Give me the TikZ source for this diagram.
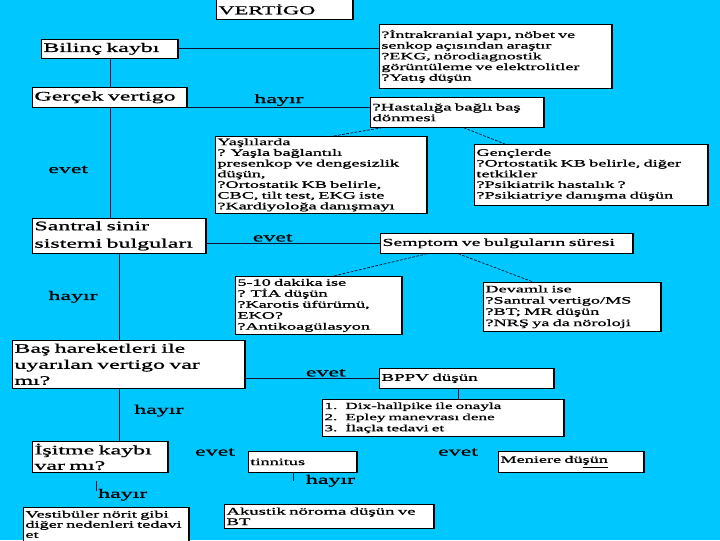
\documentclass[tikz,border=0pt]{standalone}
\usepackage{fontspec}
\setmainfont{Liberation Serif}[FakeStretch=1.85, FakeBold=1]
\usepackage{tikz}
\usetikzlibrary{positioning, calc}
\definecolor{slideblue}{HTML}{00C8FF}
\definecolor{inkline}{HTML}{101030}
\newdimen\pxu \pxu=0.025cm

\begin{document}
\begin{tikzpicture}[
        x=0.025cm, y=-0.025cm,
        box/.style={rectangle, draw=black, line width=0.5pt, fill=white, anchor=north west, align=left,
                    inner xsep=1.5pt, inner ysep=1pt, text width=#1\pxu,
                    path picture={\draw[line width=2pt] (path picture bounding box.north east) -- (path picture bounding box.south east);}},
        bigtext/.style={font=\fontsize{9.2}{11.4}\selectfont},
        smalltext/.style={font=\fontsize{7}{7.8}\selectfont},
        answer/.style={font=\fontsize{9.2}{10}\selectfont, inner sep=1pt},
        line/.style={draw=inkline, line width=0.6pt},
        hint/.style={draw=inkline, line width=0.5pt, dash pattern=on 2pt off 1pt}
    ]
    \fill[slideblue] (0,0) rectangle (720,540);
    \useasboundingbox (0,0) rectangle (720,540);

    % boxes, top to bottom
    \node [box=133, minimum height=20\pxu, font=\fontsize{8.6}{9}\selectfont] (vertigo) at (216,-1) {VERTİGO};
    \node [box=133, minimum height=19\pxu, bigtext] (bilinc) at (41,39) {Bilinç kaybı};
    \node [box=229, minimum height=64\pxu, font=\fontsize{6.9}{7.6}\selectfont] (intrakranial) at (379,24)
        {?İntrakranial yapı, nöbet ve\\senkop açısından araştır\\?EKG, nörodiagnostik\\görüntüleme ve elektrolitler\\ ?Yatış düşün};
    \node [box=151, minimum height=20\pxu, bigtext] (gercek) at (32,87) {Gerçek vertigo};
    \node [box=170, minimum height=30\pxu, font=\fontsize{7.2}{7.6}\selectfont] (hastaliga) at (370,97)
        {?Hastalığa bağlı baş\\dönmesi};
    \node [box=208, minimum height=77\pxu, font=\fontsize{7}{7.6}\selectfont] (yaslilarda) at (215,136)
        {Yaşlılarda\\? Yaşla bağlantılı\\presenkop ve dengesizlik\\düşün,\\?Ortostatik KB belirle,\\CBC, tilt test, EKG iste\\?Kardiyoloğa danışmayı};
    \node [box=230, minimum height=61\pxu, font=\fontsize{7}{7.6}\selectfont] (genclerde) at (474,144)
        {Gençlerde\\?Ortostatik KB belirle, diğer\\tetkikler\\ ?Psikiatrik hastalık ?\\ ?Psikiatriye danışma düşün};
    \node [box=170, minimum height=35\pxu, font=\fontsize{9.2}{12.4}\selectfont] (santral) at (32,218)
        {Santral sinir\\sistemi bulguları};
    \node [box=249, minimum height=20\pxu, font=\fontsize{7.6}{8}\selectfont] (semptom) at (380,233)
        {Semptom ve bulguların süresi};
    \node [box=163, minimum height=58\pxu, smalltext] (dakika) at (235,276)
        {5-10 dakika ise\\? TİA düşün\\?Karotis üfürümü,\\EKO?\\?Antikoagülasyon};
    \node [box=174, minimum height=49\pxu, font=\fontsize{7}{8}\selectfont] (devamli) at (483,282)
        {Devamlı ise\\?Santral vertigo/MS\\?BT; MR düşün\\?NRŞ ya da nöroloji};
    \node [box=229, minimum height=48\pxu, bigtext] (bas) at (12,340)
        {Baş hareketleri ile\\uyarılan vertigo var\\mı?};
    \node [box=171, minimum height=20\pxu, font=\fontsize{7.3}{8}\selectfont] (bppv) at (379,368) {BPPV düşün};
    \node [box=238, minimum height=37\pxu, font=\fontsize{6.6}{7.9}\selectfont] (dix) at (322,399)
        {\makebox[21\pxu][l]{1.}Dix-hallpike ile onayla\\\makebox[21\pxu][l]{2.}Epley manevrası dene\\\makebox[21\pxu][l]{3.}İlaçla tedavi et};
    \node [box=132, minimum height=31\pxu, font=\fontsize{9.2}{11}\selectfont] (isitme) at (32,441)
        {İşitme kaybı\\var mı?};
    \node [box=105, minimum height=21\pxu, smalltext] (tinnitus) at (248,451) {tinnitus};
    \node [box=142, minimum height=21\pxu, smalltext] (meniere) at (498,451) {Meniere dü\underline{şün}};
    \node [box=206, minimum height=24\pxu, font=\fontsize{7.2}{7.4}\selectfont] (akustik) at (224,504)
        {Akustik nöroma düşün ve\\BT};
    \node [box=162, minimum height=34\pxu, font=\fontsize{7}{7.2}\selectfont] (vestibuler) at (23,507)
        {Vestibüler nörit gibi\\diğer nedenleri tedavi\\et};

    % solid connectors
    \draw[line] (bilinc.east) -- (bilinc.east -| intrakranial.west);
    \draw[line] (bilinc.south) -- (gercek.north);
    \draw[line] (gercek.south east) -- (gercek.south east -| hastaliga.west) node[answer, midway, above] {hayır};
    \draw[line] (gercek.south) -- (gercek.south |- santral.north) node[answer, pos=0.56, left=20\pxu] {evet};
    \draw[line] (santral.east |- semptom.west) -- (semptom.west) node[answer, pos=0.38, above] {evet};
    \draw[line] (santral.south) -- (santral.south |- bas.north) node[answer, midway, left=20\pxu] {hayır};
    \draw[line] (bas.east |- bppv.west) -- (bppv.west) node[answer, pos=0.6, above] {evet};
    \coordinate (bppvfoot) at ($(bppv.south west)!0.45!(bppv.south east)$);
    \draw[line] (bppvfoot) -- (bppvfoot |- dix.north);
    \draw[line] (santral.south |- bas.south) -- (santral.south |- isitme.north) node[answer, pos=0.42, right=13\pxu] {hayır};

    % dashed hints
    \draw[hint] ($(hastaliga.south west)!0.07!(hastaliga.south east)$) -- ($(yaslilarda.north west)!0.557!(yaslilarda.north east)$);
    \draw[hint] ($(hastaliga.south west)!0.535!(hastaliga.south east)$) -- ($(genclerde.north west)!0.132!(genclerde.north east)$);
    \draw[hint] ($(semptom.south west)!0.186!(semptom.south east)$) -- ($(dakika.north west)!0.587!(dakika.north east)$);
    \draw[hint] ($(semptom.south west)!0.308!(semptom.south east)$) -- ($(devamli.north west)!0.281!(devamli.north east)$);

    % loose answers at the bottom
    \node[answer] (evetleft) at (215,452) {evet};
    \node[answer] (evetright) at (458,452) {evet};
    \coordinate (tintop) at ($(tinnitus.south west)!0.41!(tinnitus.south east)$);
    \coordinate (tinend) at ($(tintop)+(0,8)$);
    \draw[line] (tintop) -- (tinend) node[answer, pos=1, anchor=west, xshift=11\pxu] {hayır};
    \coordinate (istop) at ($(isitme.south west)!0.47!(isitme.south east)+(0,8)$);
    \coordinate (isend) at ($(istop)+(0,10)$);
    \draw[line] (istop) -- (isend) node[answer, pos=1, anchor=west, yshift=-4\pxu] {hayır};
  \end{tikzpicture}
\end{document}
